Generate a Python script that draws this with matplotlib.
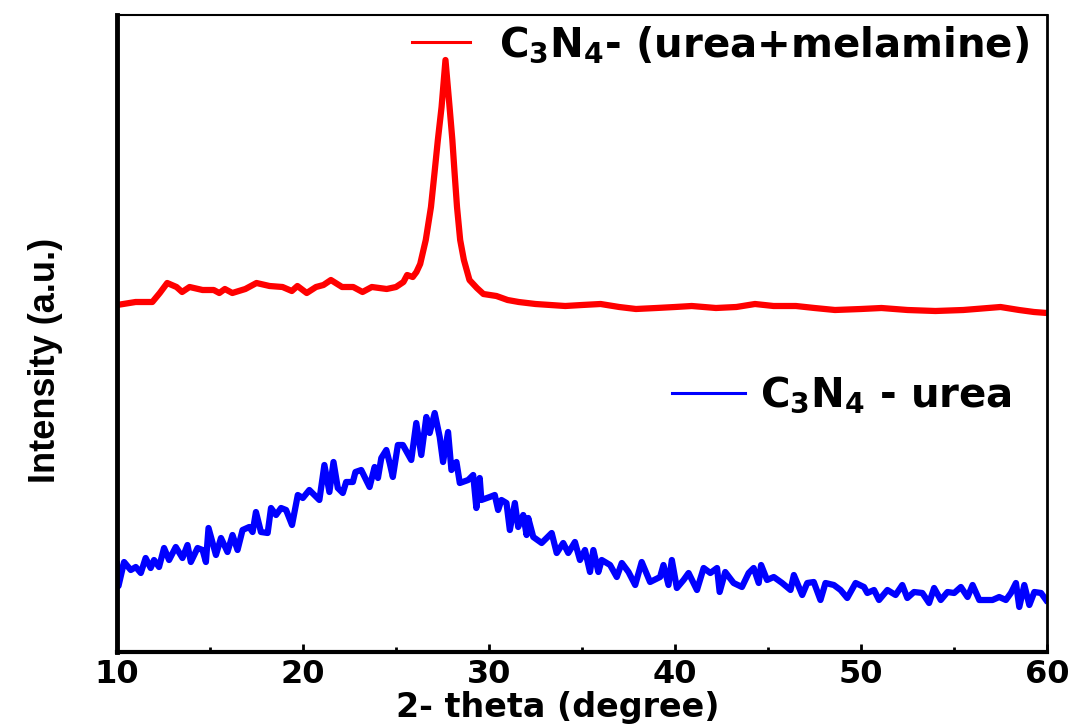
import matplotlib
matplotlib.use("Agg")
import matplotlib.pyplot as plt
from matplotlib.lines import Line2D
from matplotlib.ticker import MultipleLocator, NullLocator

plt.rcParams['font.family'] = ['DejaVu Sans']
plt.rcParams['mathtext.fontset'] = 'dejavusans'

# C3N4 (urea + melamine), 2-theta vs intensity (a.u.)
red_x = [10.0, 11.0, 11.9, 12.3, 12.7, 13.2, 13.5, 13.9, 14.6, 15.2, 15.5, 15.8,
         16.2, 16.9, 17.5, 18.2, 18.9, 19.4, 19.7, 20.2, 20.7, 21.1, 21.5, 22.1,
         22.7, 23.2, 23.7, 24.5, 25.0, 25.4, 25.6, 25.9, 26.1, 26.3, 26.6, 26.88,
         27.07, 27.25, 27.45, 27.66, 27.88, 28.03, 28.15, 28.28, 28.45, 28.65, 28.95,
         29.35, 29.7, 30.4, 31.0, 31.6, 32.5, 33.3, 34.1, 35.0, 36.0, 37.0, 37.9,
         39.0, 40.0, 40.9, 42.2, 43.3, 44.3, 45.3, 46.5, 47.5, 48.6, 50.0, 51.1,
         52.5, 54.0, 55.5, 57.5, 58.5, 59.3, 60.0]
red_y = [347, 350, 350, 359, 369, 365, 360, 365, 362, 362, 359, 363,
         359, 363, 369, 366, 365, 361, 366, 359, 365, 367, 372, 365,
         365, 360, 365, 363, 365, 370, 377, 375, 380, 388, 412, 445,
         479, 512, 545, 592, 545, 512, 479, 445, 412, 392, 372,
         364, 358, 356, 352, 350, 348, 347, 346, 347, 348, 345, 343,
         344, 345, 346, 344, 345, 348, 346, 346, 344, 342, 343, 344,
         342, 341, 342, 345, 342, 340, 339]

# C3N4 (urea)
blue_x = [10.0, 10.08, 10.38, 10.74, 11.01, 11.28, 11.54, 11.81, 11.99, 12.26, 12.53,
          12.80, 13.16, 13.52, 13.79, 13.97, 14.33, 14.60, 14.78, 14.92, 15.32, 15.59,
          15.94, 16.21, 16.48, 16.75, 17.11, 17.29, 17.47, 17.74, 18.10, 18.28, 18.55,
          18.82, 19.09, 19.41, 19.72, 19.99, 20.34, 20.88, 21.15, 21.42, 21.64, 21.87,
          22.14, 22.32, 22.68, 22.82, 23.13, 23.58, 23.85, 24.03, 24.21, 24.48, 24.66,
          24.83, 25.10, 25.37, 25.82, 26.09, 26.36, 26.63, 26.81, 27.08, 27.35, 27.53,
          27.80, 27.98, 28.25, 28.43, 28.88, 29.15, 29.32, 29.50, 29.59, 30.04, 30.31,
          30.49, 30.67, 30.94, 31.12, 31.39, 31.57, 31.84, 32.02, 32.11, 32.38, 32.83,
          33.37, 33.64, 33.99, 34.26, 34.62, 34.89, 35.16, 35.43, 35.61, 35.88, 36.06,
          36.51, 36.87, 37.14, 37.50, 37.86, 38.21, 38.66, 39.20, 39.38, 39.65, 39.83,
          40.10, 40.46, 40.73, 41.18, 41.54, 41.90, 42.26, 42.40, 42.70, 43.15, 43.60,
          43.96, 44.23, 44.50, 44.63, 44.95, 45.31, 45.76, 46.21, 46.39, 46.84, 47.11,
          47.46, 47.82, 48.09, 48.54, 48.90, 49.26, 49.71, 50.16, 50.34, 50.70, 50.97,
          51.42, 51.86, 52.22, 52.49, 52.85, 53.30, 53.66, 53.93, 54.29, 54.65, 55.01,
          55.37, 55.73, 56.00, 56.36, 56.71, 57.07, 57.43, 57.79, 58.06, 58.33, 58.51,
          58.78, 59.05, 59.32, 59.68, 59.95]
blue_y = [88, 66, 90, 82, 85, 79, 94, 84, 92, 85, 104,
          92, 105, 94, 107, 90, 104, 102, 90, 124, 97, 114,
          100, 117, 102, 122, 125, 120, 140, 120, 119, 144, 137,
          144, 142, 127, 157, 154, 162, 152, 187, 160, 190, 164,
          159, 170, 170, 180, 182, 165, 185, 174, 194, 202, 189,
          175, 207, 207, 192, 229, 197, 235, 219, 239, 215, 190,
          220, 182, 190, 169, 172, 177, 144, 174, 152, 155, 157,
          142, 152, 149, 122, 149, 125, 137, 117, 134, 115, 109,
          119, 99, 109, 99, 110, 92, 102, 80, 102, 80, 92,
          87, 75, 89, 80, 67, 90, 70, 75, 87, 67, 92,
          64, 72, 79, 62, 84, 79, 84, 60, 80, 69, 65,
          79, 84, 69, 87, 72, 75, 69, 62, 77, 57, 69,
          70, 52, 69, 67, 62, 54, 69, 65, 59, 62, 52,
          62, 57, 67, 54, 60, 59, 49, 64, 52, 60, 59,
          65, 55, 67, 52, 52, 52, 55, 52, 59, 69, 45,
          67, 47, 60, 59, 52]

red_label = r'C$_\mathbf{3}$N$_\mathbf{4}$- (urea+melamine)'
blue_label = r'C$_\mathbf{3}$N$_\mathbf{4}$ - urea'

fig = plt.figure(figsize=(10.75, 7.27), dpi=100)
ax = fig.add_axes([117 / 1075, 1 - 652 / 727, 930 / 1075, 637 / 727])

ax.plot(red_x, red_y, color='#ff0000', lw=4.5, solid_joinstyle='round')
ax.plot(blue_x, blue_y, color='#0000ff', lw=4.5, solid_joinstyle='round')

ax.set_xlim(10, 60)
ax.set_ylim(0, 637)
ax.xaxis.set_major_locator(MultipleLocator(10))
ax.xaxis.set_minor_locator(MultipleLocator(5))
ax.yaxis.set_major_locator(NullLocator())
ax.tick_params(axis='x', which='major', direction='in', length=6, width=2,
               labelsize=23, pad=5)
ax.tick_params(axis='x', which='minor', direction='in', length=3.5, width=2)
for t in ax.get_xticklabels():
    t.set_fontweight('bold')

ax.spines['left'].set_linewidth(3.5)
ax.spines['bottom'].set_linewidth(3)
ax.spines['top'].set_linewidth(1.5)
ax.spines['right'].set_linewidth(2)

ax.set_xlabel('2- theta (degree)', fontsize=24, fontweight='bold')
ax.xaxis.set_label_coords(0.474, -0.062)
ax.set_ylabel('Intensity (a.u.)', fontsize=26, fontweight='bold',
              family=['Liberation Sans Narrow', 'Liberation Sans'])
ax.yaxis.set_label_coords(-0.058, 0.458)

leg_font = {'size': 29, 'weight': 'bold'}
h1 = Line2D([], [], color='#ff0000', lw=2.2)
leg1 = ax.legend([h1], [red_label], loc='center left', bbox_to_anchor=(0.317, 0.953),
                 frameon=False, prop=leg_font, borderpad=0, borderaxespad=0,
                 handlelength=1.45, handletextpad=0.72)
ax.add_artist(leg1)
h2 = Line2D([], [], color='#0000ff', lw=2.2)
ax.legend([h2], [blue_label], loc='center left', bbox_to_anchor=(0.597, 0.403),
          frameon=False, prop=leg_font, borderpad=0, borderaxespad=0,
          handlelength=1.8, handletextpad=0.38)

fig.savefig('out.png', dpi=100)
